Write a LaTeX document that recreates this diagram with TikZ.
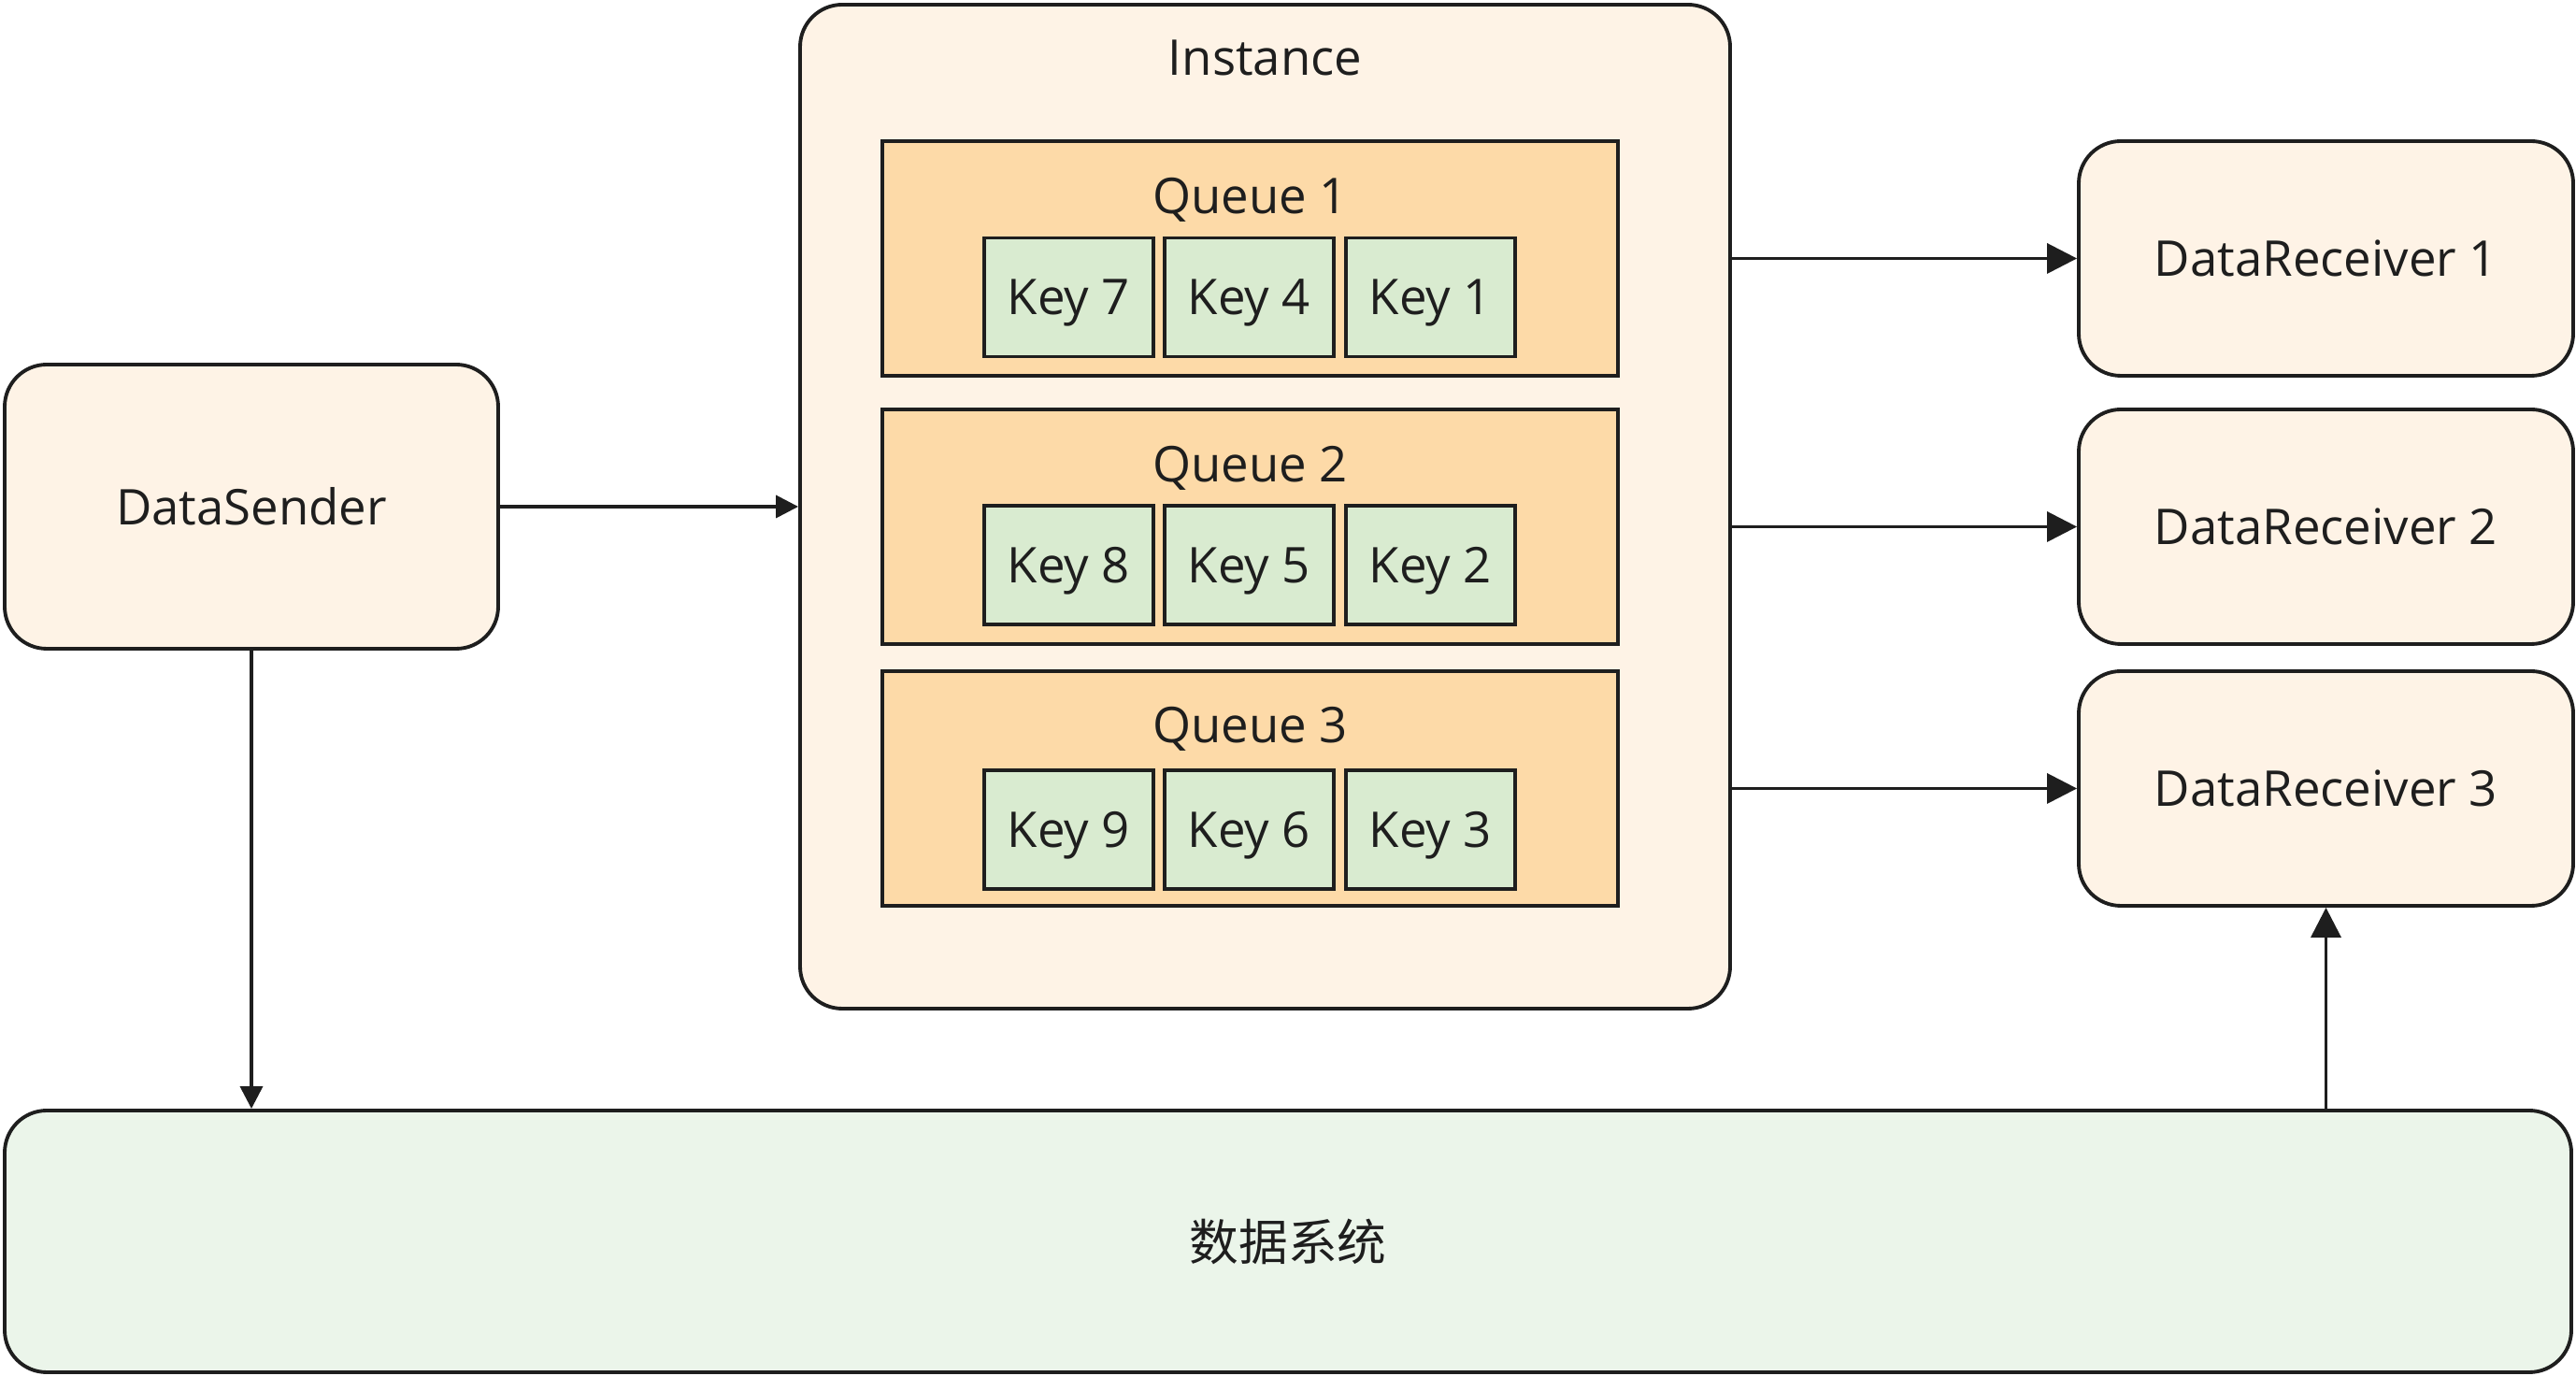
\documentclass[tikz,border=0pt]{standalone}
\usepackage{fontspec}
\setmainfont{Open Sans}
\newfontfamily\cjk{Noto Sans CJK SC}
\usetikzlibrary{arrows.meta}

\definecolor{warmfill}{HTML}{FEF3E6}
\definecolor{queuefill}{HTML}{FDDAA8}
\definecolor{keyfill}{HTML}{D9EBD0}
\definecolor{sysfill}{HTML}{EBF5EA}
\definecolor{ink}{HTML}{1E1E1E}

\begin{document}
\begin{tikzpicture}[
    >={Triangle[length=0.32cm, width=0.32cm]},
    every node/.style={font=\fontsize{15pt}{18pt}\selectfont, text=ink},
    outer/.style={draw=ink, line width=1.1pt, rounded corners=0.45cm, fill=warmfill, inner sep=0pt},
    queuebox/.style={draw=ink, line width=1pt, fill=queuefill, minimum width=7.87cm, minimum height=2.51cm, inner sep=0pt},
    keybox/.style={draw=ink, line width=1pt, fill=keyfill, minimum width=1.81cm, minimum height=1.27cm, inner sep=0pt, text depth=0pt},
    link/.style={->, line width=1pt, draw=ink},
    smalllink/.style={-{Triangle[length=0.24cm, width=0.24cm]}, line width=1pt, draw=ink}
]
    \useasboundingbox (0,0) rectangle (27.56,14.72);

    % Sender and data system
    \node[outer, minimum width=5.28cm, minimum height=3.04cm] (ds) at (2.69,9.30) {DataSender};
    \node[outer, fill=sysfill, minimum width=27.46cm, minimum height=2.80cm] (sys) at (13.78,1.44) {\cjk 数据系统};

    % Instance with its queues
    \node[outer, minimum width=9.95cm, minimum height=10.74cm] (inst) at (13.535,9.30) {};
    \node (instt) at (13.535,14.10) {Instance};

    \node[queuebox] (q1) at (13.375,11.955) {};
    \node[queuebox] (q2) at (13.375,9.085) {};
    \node[queuebox] (q3) at (13.375,6.285) {};
    \node (q1t) at (13.375,12.58) {Queue 1};
    \node (q2t) at (13.375,9.71) {Queue 2};
    \node (q3t) at (13.375,6.92) {Queue 3};

    % Keys
    \node[keybox] (k7) at (11.435,11.54) {Key 7};
    \node[keybox] (k4) at (13.365,11.54) {Key 4};
    \node[keybox] (k1) at (15.305,11.54) {Key 1};
    \node[keybox] (k8) at (11.435,8.675) {Key 8};
    \node[keybox] (k5) at (13.365,8.675) {Key 5};
    \node[keybox] (k2) at (15.305,8.675) {Key 2};
    \node[keybox] (k9) at (11.435,5.845) {Key 9};
    \node[keybox] (k6) at (13.365,5.845) {Key 6};
    \node[keybox] (k3) at (15.305,5.845) {Key 3};

    % Receivers
    \node[outer, minimum width=5.29cm, minimum height=2.51cm] (dr1) at (24.885,11.955) {DataReceiver 1};
    \node[outer, minimum width=5.29cm, minimum height=2.51cm] (dr2) at (24.885,9.085) {DataReceiver 2};
    \node[outer, minimum width=5.29cm, minimum height=2.51cm] (dr3) at (24.885,6.285) {DataReceiver 3};

    % Connectors
    \draw[smalllink] (ds.east) -- (inst.west);
    \draw[smalllink] (ds.south) -- (ds.south |- sys.north);
    \draw[link] (inst.east |- dr1.west) -- (dr1.west);
    \draw[link] (inst.east |- dr2.west) -- (dr2.west);
    \draw[link] (inst.east |- dr3.west) -- (dr3.west);
    \draw[link] (sys.north -| dr3.south) -- (dr3.south);
\end{tikzpicture}
\end{document}
